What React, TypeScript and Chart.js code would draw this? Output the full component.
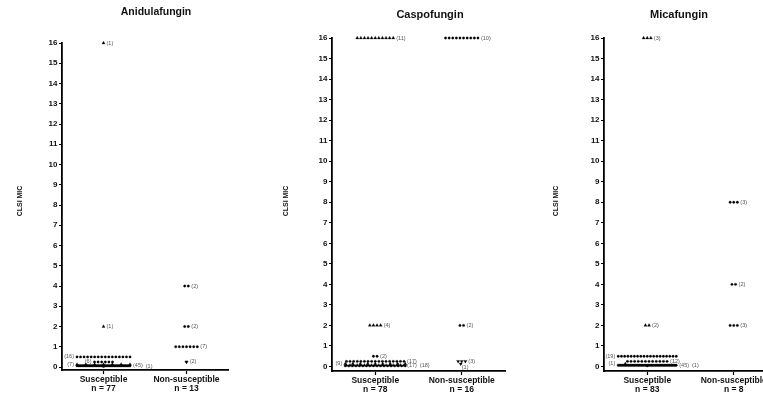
import React, { useEffect, useRef } from 'react';
import { Chart, registerables } from 'chart.js';

Chart.register(...registerables);

const FONT = "'Liberation Sans', Arial, Helvetica, sans-serif";

// ---------- data ----------
const categories = ['Susceptible', 'Non-susceptible'];
const micTicks = [0, 1, 2, 3, 4, 5, 6, 7, 8, 9, 10, 11, 12, 13, 14, 15, 16];
const yAxisTitle = 'CLSI MIC';

// Anidulafungin
const aniTitle = 'Anidulafungin';
const aniN = [77, 13];
const aniSusMic = [16, 2, 0.5, 0.25, 0.125, 0.06, 0.03];
const aniSusCount = [1, 1, 16, 6, 7, 45, 1];
const aniSusMarker = ['up', 'up', 'dot', 'dot', 'up', 'dot', 'dot'];
const aniNonMic = [4, 2, 1, 0.25];
const aniNonCount = [2, 2, 7, 2];
const aniNonMarker = ['dot', 'dot', 'dot', 'down'];

// Caspofungin
const caspTitle = 'Caspofungin';
const caspN = [78, 16];
const caspSusMic = [16, 2, 0.5, 0.25, 0.125, 0.06, 0.03];
const caspSusCount = [11, 4, 2, 17, 9, 17, 18];
const caspSusMarker = ['up', 'up', 'dot', 'dot', 'up', 'up', 'dot'];
const caspNonMic = [16, 2, 0.25, 0.125];
const caspNonCount = [10, 2, 3, 1];
const caspNonMarker = ['dot', 'dot', 'down', 'down'];

// Micafungin
const micaTitle = 'Micafungin';
const micaN = [83, 8];
const micaSusMic = [16, 2, 0.5, 0.25, 0.125, 0.06, 0.03];
const micaSusCount = [3, 2, 19, 12, 1, 45, 1];
const micaSusMarker = ['up', 'up', 'dot', 'dot', 'up', 'dot', 'dot'];
const micaNonMic = [8, 4, 2];
const micaNonCount = [3, 2, 3];
const micaNonMarker = ['dot', 'dot', 'dot'];

// ---------- layout (label side, spread) ----------
const aniSusSide = ['right', 'right', 'left', 'left', 'left', 'right', 'right'];
const aniSusGap = [null, null, null, null, 9, null, null];
const aniSusShift = [0, 0, 0, 0, 0, 0, 0];
const aniNonSide = ['right', 'right', 'right', 'right'];
const aniNonGap = [null, null, null, 0.3];
const aniNonShift = [0, 0, 0, 0];

const caspSusSide = ['right', 'right', 'right', 'right', 'left', 'right', 'right'];
const caspSusGap = [null, null, null, null, 8, null, null];
const caspSusShift = [0, 0, 0, 0, 0, 0, 0];
const caspNonSide = ['right', 'right', 'right', 'below'];
const caspNonGap = [null, null, null, null];
const caspNonShift = [0, 0, 0, -1];

const micaSusSide = ['right', 'right', 'left', 'right', 'left', 'right', 'right'];
const micaSusGap = [null, null, null, null, null, null, null];
const micaSusShift = [0, 0, 0, 0, -22, 0, 0];
const micaNonSide = ['right', 'right', 'right'];
const micaNonGap = [null, null, null];
const micaNonShift = [0, 0, 0];

type Group = {
  cat: number; mic: number; count: number; marker: string;
  side: string; gap: number | null; shift: number;
};

function makeGroups(cat: number, mic: number[], count: number[], marker: string[], side: string[], gap: (number | null)[], shift: number[]): Group[] {
  return mic.map((m, i) => ({ cat, mic: m, count: count[i], marker: marker[i], side: side[i], gap: gap[i], shift: shift[i] }));
}

const panels = [
  {
    key: 'ani', title: aniTitle, n: aniN,
    groups: [
      ...makeGroups(1, aniSusMic, aniSusCount, aniSusMarker, aniSusSide, aniSusGap, aniSusShift),
      ...makeGroups(2, aniNonMic, aniNonCount, aniNonMarker, aniNonSide, aniNonGap, aniNonShift),
    ],
    left: 0, width: 250, chartLeft: 62, chartRight: 228, top: 43, bottom: 370, yMin: -0.148,
    titleX: 156, titleY: 12, titleSize: 10.5, yTitleX: 20, yTitleY: 201, maxW: 53,
  },
  {
    key: 'casp', title: caspTitle, n: caspN,
    groups: [
      ...makeGroups(1, caspSusMic, caspSusCount, caspSusMarker, caspSusSide, caspSusGap, caspSusShift),
      ...makeGroups(2, caspNonMic, caspNonCount, caspNonMarker, caspNonSide, caspNonGap, caspNonShift),
    ],
    left: 250, width: 260, chartLeft: 82, chartRight: 255, top: 38, bottom: 371, yMin: -0.22,
    titleX: 180, titleY: 15, titleSize: 11, yTitleX: 36, yTitleY: 201, maxW: 60,
  },
  {
    key: 'mica', title: micaTitle, n: micaN,
    groups: [
      ...makeGroups(1, micaSusMic, micaSusCount, micaSusMarker, micaSusSide, micaSusGap, micaSusShift),
      ...makeGroups(2, micaNonMic, micaNonCount, micaNonMarker, micaNonSide, micaNonGap, micaNonShift),
    ],
    left: 510, width: 270, chartLeft: 94, chartRight: 267, top: 38, bottom: 371, yMin: -0.22,
    titleX: 169, titleY: 15, titleSize: 11, yTitleX: 46, yTitleY: 201, maxW: 58,
  },
];

const DEFAULT_GAP = 3.6;
const X_MIN = 0.5;
const X_MAX = 2.5;

const panelPlugin = {
  id: 'panelText',
  afterDatasetsDraw(chart: any) {
    const ctx = chart.ctx;
    ctx.save();
    ctx.font = `5.5px ${FONT}`;
    ctx.fillStyle = '#555';
    ctx.textBaseline = 'middle';
    ctx.textAlign = 'left';
    // row extents act as obstacles for labels at (almost) the same height
    const rows: { x0: number; x1: number; y: number }[] = [];
    chart.data.datasets.forEach((_ds: any, i: number) => {
      const pts = chart.getDatasetMeta(i).data;
      if (!pts.length) return;
      const xs = pts.map((p: any) => p.x);
      rows.push({ x0: Math.min(...xs), x1: Math.max(...xs), y: pts[0].y });
    });
    const placed: { x0: number; x1: number; y: number }[] = [];
    chart.data.datasets.forEach((ds: any, i: number) => {
      const pts = chart.getDatasetMeta(i).data;
      if (!pts.length) return;
      const xs = pts.map((p: any) => p.x);
      const x0 = Math.min(...xs);
      const x1 = Math.max(...xs);
      const y = pts[0].y;
      const w = ctx.measureText(ds.countLabel).width;
      const left = ds.labelSide === 'left';
      let lx: number;
      let ly = y;
      if (left) lx = x0 - 3 - w;
      else if (ds.labelSide === 'below') { lx = x1 + 1; ly = y + 4; }
      else lx = x1 + 3;
      let moved = true;
      let guard = 0;
      while (moved && guard < 30) {
        moved = false;
        guard++;
        for (const r of rows) {
          if (Math.abs(r.y - ly) < 2 && lx < r.x1 && lx + w > r.x0) {
            lx = left ? r.x0 - 3 - w : r.x1 + 3;
            moved = true;
          }
        }
        for (const p of placed) {
          if (Math.abs(p.y - ly) < 3.5 && lx < p.x1 + 1.5 && lx + w > p.x0 - 1.5) {
            lx = left ? p.x0 - 3 - w : p.x1 + 3;
            moved = true;
          }
        }
      }
      ctx.fillText(ds.countLabel, lx, ly);
      placed.push({ x0: lx, x1: lx + w, y: ly });
    });
    ctx.restore();
  },
  afterDraw(chart: any, _args: any, opts: any) {
    const ctx = chart.ctx;
    ctx.save();
    ctx.fillStyle = '#111';
    ctx.textAlign = 'center';
    ctx.textBaseline = 'middle';
    ctx.font = `bold ${opts.titleSize}px ${FONT}`;
    ctx.fillText(opts.title, opts.titleX, opts.titleY);
    ctx.translate(opts.yTitleX, opts.yTitleY);
    ctx.rotate(-Math.PI / 2);
    ctx.font = `bold 7px ${FONT}`;
    ctx.fillText(yAxisTitle, 0, 0);
    ctx.restore();
  },
};

function buildConfig(p: any): any {
  const pxPerUnit = (p.chartRight - p.chartLeft) / (X_MAX - X_MIN);
  const datasets = p.groups.map((g: Group) => {
    const gapPx = g.gap == null ? DEFAULT_GAP : g.gap;
    const w = g.count > 1 ? Math.min((g.count - 1) * gapPx, p.maxW) : 0;
    const data = Array.from({ length: g.count }, (_, i) => ({
      x: g.cat + (g.shift + (g.count > 1 ? -w / 2 + (i * w) / (g.count - 1) : 0)) / pxPerUnit,
      y: g.mic,
    }));
    const isDot = g.marker === 'dot';
    return {
      type: 'scatter',
      data,
      pointStyle: isDot ? 'circle' : 'triangle',
      rotation: g.marker === 'down' ? 180 : 0,
      pointRadius: isDot ? 1.2 : 1.8,
      pointHoverRadius: isDot ? 1.2 : 1.8,
      backgroundColor: '#000',
      borderColor: '#000',
      borderWidth: 0.3,
      showLine: false,
      clip: false,
      countLabel: `(${g.count})`,
      labelSide: g.side,
    };
  });

  return {
    type: 'scatter',
    data: { datasets },
    plugins: [panelPlugin],
    options: {
      responsive: false,
      animation: false,
      devicePixelRatio: 1,
      events: [],
      layout: {
        padding: { left: 0, right: p.width - p.chartRight, top: p.top, bottom: 0 },
      },
      plugins: {
        legend: { display: false },
        tooltip: { enabled: false },
        title: { display: false },
        panelText: {
          title: p.title, titleX: p.titleX, titleY: p.titleY, titleSize: p.titleSize,
          yTitleX: p.yTitleX, yTitleY: p.yTitleY,
        },
      },
      scales: {
        x: {
          type: 'linear',
          min: X_MIN,
          max: X_MAX,
          afterBuildTicks: (s: any) => { s.ticks = [{ value: 1 }, { value: 2 }]; },
          afterFit: (s: any) => { s.height = 397 - p.bottom; },
          ticks: {
            autoSkip: false,
            maxRotation: 0,
            minRotation: 0,
            padding: 1,
            color: '#111',
            font: { family: FONT, size: 8.5, weight: 'bold', lineHeight: 1.1 },
            callback: (v: number) => {
              const i = Math.round(v) - 1;
              return [categories[i], `n = ${p.n[i]}`];
            },
          },
          grid: {
            display: true, drawOnChartArea: false, drawTicks: true, tickLength: 4,
            color: '#000', tickColor: '#000', tickWidth: 1.2,
          },
          border: { display: true, color: '#000', width: 1.8 },
        },
        y: {
          type: 'linear',
          min: p.yMin,
          max: 16,
          afterBuildTicks: (s: any) => { s.ticks = micTicks.map((v) => ({ value: v })); },
          afterFit: (s: any) => { s.width = p.chartLeft; },
          ticks: {
            autoSkip: false,
            padding: 1.5,
            color: '#111',
            font: { family: FONT, size: 8, weight: 'bold' },
            callback: (v: number) => String(v),
          },
          grid: {
            display: true, drawOnChartArea: false, drawTicks: true, tickLength: 3,
            color: '#000', tickColor: '#000', tickWidth: 1.2,
          },
          border: { display: true, color: '#000', width: 1.8 },
        },
      },
    },
  };
}

function Panel({ cfg }: { cfg: any }) {
  const ref = useRef<HTMLCanvasElement | null>(null);
  useEffect(() => {
    if (!ref.current) return;
    const chart = new Chart(ref.current, buildConfig(cfg));
    return () => chart.destroy();
  }, [cfg]);
  return (
    <canvas
      ref={ref}
      width={cfg.width}
      height={397}
      style={{ position: 'absolute', left: cfg.left, top: 0, width: cfg.width, height: 397 }}
    />
  );
}

export default function App() {
  return (
    <div
      style={{
        position: 'absolute', left: 0, top: 0, width: 763, height: 397,
        overflow: 'hidden', background: '#fff',
      }}
    >
      {panels.map((p) => (
        <Panel key={p.key} cfg={p} />
      ))}
    </div>
  );
}
